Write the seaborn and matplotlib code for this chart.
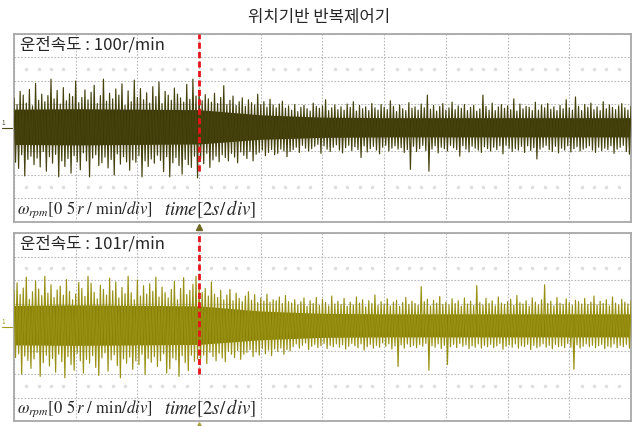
import numpy as np
import pandas as pd
import seaborn as sns
import matplotlib.pyplot as plt
from matplotlib import transforms

# data
title = "위치기반 반복제어기"
speeds = [100, 101]                      # r/min, operating speed of each trace
speed_labels = ["운전속도 : 100r/min", "운전속도 : 101r/min"]
sample_period = 0.05                     # s
time_per_div = 2.0                       # s/div
speed_per_div = 0.5                      # r/min/div
step_time = 6.0                          # s, red marker

# speed ripple, 0.01 r/min units, one value every 0.05 s
ripple_100 = [
    64, -73, 50, -86, 78, -57, 70, -102, 53, -67,
    82, -60, 47, -78, 95, -64, 59, -83, 72, -50,
    56, -92, 69, -61, 104, -75, 62, -56, 80, -104,
    51, -70, 86, -82, 58, -65, 73, -96, 67, -59,
    100, -72, 54, -89, 65, -53, 81, -70, 60, -104,
    76, -64, 91, -57, 52, -80, 69, -74, 104, -62,
    57, -85, 74, -67, 62, -100, 83, -55, 70, -77,
    94, -61, 48, -72, 79, -90, 56, -68, 102, -73,
    65, -59, 84, -104, 60, -70, 75, -82, 53, -66,
    88, -75, 67, -58, 98, -69, 52, -93, 78, -61,
    70, -104, 59, -74, 85, -63, 72, -80, 64, -98,
    55, -67, 93, -78, 61, -84, 104, -60, 68, -106,
    80, -66, 58, -76, 71, -54, 62, -84, 55, -68,
    74, -60, 52, -72, 65, -57, 90, -63, 50, -70,
    59, -54, 68, -62, 48, -74, 56, -51, 64, -58,
    46, -65, 60, -50, 54, -70, 49, -56, 72, -52,
    50, -47, 56, -59, 44, -52, 61, -46, 49, -57,
    43, -54, 51, -45, 57, -49, 42, -61, 47, -50,
    38, -46, 50, -41, 35, -52, 44, -37, 48, -43,
    41, -49, 36, -44, 53, -39, 46, -35, 42, -54,
    47, -38, 60, -45, 37, -50, 43, -41, 49, -36,
    39, -47, 45, -53, 38, -42, 51, -37, 44, -48,
    56, -40, 36, -46, 48, -63, 41, -38, 45, -51,
    37, -44, 52, -39, 43, -47, 38, -55, 50, -41,
    44, -37, 39, -49, 58, -43, 46, -38, 35, -45,
    49, -42, 41, -52, 37, -46, 54, -88, 42, -39,
    45, -50, 38, -44, 51, -37, 43, -48, 70, -92,
    40, -45, 48, -38, 36, -53, 46, -41, 52, -44,
    38, -49, 43, -37, 55, -42, 39, -46, 47, -60,
    42, -38, 50, -45, 37, -51, 44, -39, 48, -43,
    36, -47, 41, -52, 70, -40, 46, -44, 38, -49,
    53, -41, 37, -46, 45, -38, 50, -55, 42, -37,
    47, -43, 39, -50, 62, -44, 36, -47, 51, -39,
    41, -52, 46, -38, 44, -48, 37, -42, 55, -66,
    38, -45, 49, -41, 43, -37, 52, -46, 40, -50,
    45, -39, 37, -53, 48, -43, 41, -47, 60, -38,
    43, -51, 38, -44, 66, -40, 46, -49, 37, -45,
    50, -42, 44, -38, 53, -47, 39, -52, 45, -41,
    37, -48, 56, -43, 41, -46, 49, -38, 44, -54,
    39, -45, 47, -41, 52, -37, 43, -50, 38, -56,
    46]
ripple_101 = [
    78, -65, 94, -57, 69, -100, 83, -62, 106, -71,
    59, -88, 75, -68, 98, -54, 81, -105, 67, -76,
    108, -60, 72, -83, 90, -67, 63, -96, 79, -58,
    87, -74, 68, -108, 101, -63, 76, -80, 58, -92,
    70, -56, 95, -72, 82, -98, 65, -69, 108, -77,
    93, -61, 74, -86, 60, -103, 89, -66, 80, -55,
    68, -94, 104, -70, 77, -59, 96, -82, 62, -108,
    84, -68, 71, -77, 108, -64, 73, -90, 58, -72,
    100, -80, 66, -58, 88, -101, 70, -67, 92, -75,
    76, -63, 106, -84, 64, -72, 85, -57, 73, -98,
    62, -89, 80, -66, 97, -70, 58, -105, 82, -61,
    105, -76, 69, -93, 78, -60, 91, -73, 108, -68,
    88, -68, 74, -60, 82, -78, 66, -54, 96, -63,
    70, -72, 63, -56, 78, -66, 58, -74, 68, -52,
    80, -58, 56, -65, 72, -50, 61, -69, 54, -58,
    66, -54, 75, -48, 57, -63, 69, -53, 52, -60,
    62, -46, 55, -57, 70, -49, 53, -61, 58, -47,
    56, -52, 64, -45, 50, -58, 67, -48, 54, -51,
    51, -42, 58, -36, 47, -45, 54, -39, 62, -34,
    44, -48, 56, -41, 50, -37, 63, -44, 46, -40,
    59, -35, 52, -46, 45, -39, 66, -42, 49, -36,
    55, -43, 48, -38, 61, -47, 44, -41, 53, -35,
    47, -40, 64, -44, 51, -36, 58, -49, 43, -42,
    56, -37, 50, -45, 68, -39, 46, -43, 54, -34,
    49, -41, 60, -36, 45, -47, 53, -40, 57, -84,
    44, -38, 52, -45, 63, -36, 48, -42, 55, -39,
    50, -44, 46, -37, 86, -41, 54, -35, 59, -92,
    45, -40, 57, -43, 51, -36, 65, -46, 48, -39,
    53, -80, 47, -42, 60, -37, 50, -44, 56, -35,
    44, -41, 62, -38, 49, -46, 55, -40, 46, -43,
    88, -36, 52, -45, 47, -39, 61, -42, 50, -37,
    56, -44, 45, -40, 64, -35, 51, -47, 48, -41,
    54, -38, 59, -43, 46, -36, 67, -45, 52, -40,
    49, -42, 56, -37, 44, -48, 62, -39, 53, -44,
    47, -41, 58, -36, 90, -43, 50, -39, 55, -46,
    45, -37, 63, -42, 51, -40, 48, -44, 60, -35,
    52, -43, 46, -90, 57, -38, 54, -45, 49, -41,
    61, -36, 48, -42, 53, -39, 66, -44, 47, -40,
    55, -37, 50, -46, 58, -41, 45, -43, 64, -36,
    51, -44, 47, -39, 59, -42, 53, -37, 49, -45,
    56]
# dense core of the trace every 2 s (0.01 r/min)
core_t = [0, 2, 4, 6, 8, 10, 12, 14, 16, 18, 20]
core_hi_100 = [40, 41, 40, 39, 28, 23, 22, 22, 22, 22, 22]
core_lo_100 = [-35, -36, -35, -34, -24, -20, -19, -19, -19, -19, -19]
core_hi_101 = [46, 47, 46, 45, 34, 29, 28, 28, 28, 28, 28]
core_lo_101 = [-38, -39, -38, -37, -27, -22, -21, -21, -21, -21, -21]

sns.set_style("white")
plt.rcParams["font.family"] = ["Noto Sans CJK KR", "DejaVu Sans"]
plt.rcParams["mathtext.fontset"] = "stix"

fig = plt.figure(figsize=(6.35, 4.26), dpi=100)
fig.text(0.503, 0.958, title, ha="center", va="center", fontsize=12)

ax_boxes = [[0.022, 0.4789, 0.9717, 0.4413], [0.022, 0.0117, 0.9717, 0.4413]]
ripples = [ripple_100, ripple_101]
cores = [(core_hi_100, core_lo_100), (core_hi_101, core_lo_101)]
core_colors = ["#3c3906", "#877f02"]
line_colors = ["#45420e", "#989012"]
mark_colors = ["#4a4710", "#a09a20"]
red_ymin = [0.27, 0.25]

for i in range(2):
    ax = fig.add_axes(ax_boxes[i])
    c = speeds[i]
    n = len(ripples[i])
    df = pd.DataFrame({"time": np.arange(n) * sample_period,
                       "speed": c + np.array(ripples[i]) / 100})
    ylo, yhi = c - 4 * speed_per_div, c + 4 * speed_per_div

    # grid
    for gx in np.arange(0, 20.01, time_per_div):
        ax.axvline(gx, color="#b8b8b8", lw=0.8, ls=(0, (1.5, 1.5)), zorder=0)
    for gy in np.arange(ylo, yhi + 0.01, speed_per_div):
        ax.axhline(gy, color="#b8b8b8", lw=0.8, ls=(0, (1.5, 1.5)), zorder=0)
    dots_x = [x for x in np.arange(0, 20.01, 0.4) if abs(x / 2 - round(x / 2)) > 0.01]
    for dy in (c - 2.5 * speed_per_div, c + 2.5 * speed_per_div):
        ax.plot(dots_x, [dy] * len(dots_x), ls="none", marker="o", ms=1.5,
                mfc="#dedede", mec="#dedede", zorder=0)

    # trace
    hi, lo = cores[i]
    ax.fill_between(core_t, c + np.array(lo) / 100, c + np.array(hi) / 100,
                    color=core_colors[i], lw=0, zorder=2)
    sns.lineplot(data=df, x="time", y="speed", ax=ax, estimator=None, sort=False,
                 color=line_colors[i], lw=0.85, zorder=3)

    # red marker line
    ax.axvline(step_time, ymin=red_ymin[i], ymax=1, color="#e8131b", lw=2,
               ls=(0, (2.2, 1.2)), zorder=5)

    ax.set_xlim(0, 20)
    ax.set_ylim(ylo, yhi)
    ax.set_xticks([])
    ax.set_yticks([])
    ax.set_xlabel("")
    ax.set_ylabel("")
    for s in ax.spines.values():
        s.set_color("#a8a8a8")
        s.set_linewidth(1.3)

    # texts
    ax.text(0.01, 0.94, speed_labels[i], transform=ax.transAxes, ha="left",
            va="center", fontsize=12, zorder=6)
    ax.text(0.005, 0.065, r"$\omega_{rpm}$[0 5$\,r$ / min/$div$]", transform=ax.transAxes,
            ha="left", va="center", fontsize=12, family="STIXGeneral", zorder=6)
    ax.text(0.243, 0.068, r"$time$[2$s$/$\,div$]", transform=ax.transAxes,
            ha="left", va="center", fontsize=13.5, family="STIXGeneral", zorder=6)

    # channel marker at left
    tr = transforms.blended_transform_factory(ax.transAxes, ax.transData)
    ax.text(-0.017, c + 0.03, "1", transform=tr, fontsize=4.5, color=mark_colors[i],
            ha="center", va="bottom", clip_on=False)
    ax.plot([-0.02, -0.003], [c, c], transform=tr, color=mark_colors[i], lw=0.8,
            clip_on=False)

    if i == 1:
        tr2 = transforms.blended_transform_factory(ax.transData, ax.transAxes)
        ax.plot([step_time], [1.03], marker="^", ms=4, color="#6d6a22",
                transform=tr2, clip_on=False)
        ax.plot([step_time], [-0.015], marker="^", ms=2.5, color="#a8a040",
                transform=tr2, clip_on=False)

fig.savefig("out.png", dpi=100)
